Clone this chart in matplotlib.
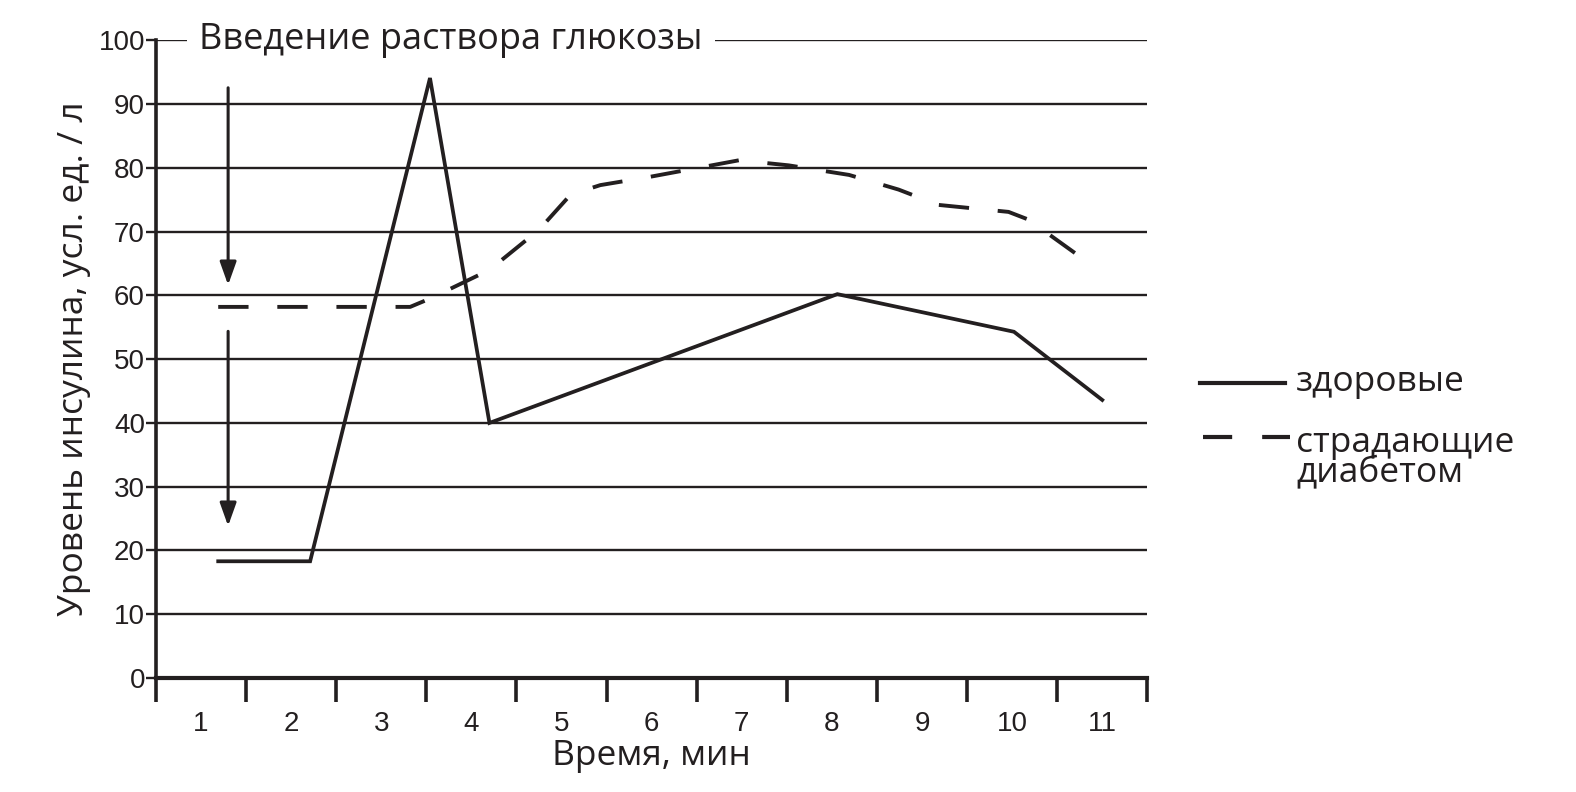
import matplotlib.pyplot as plt
from matplotlib.lines import Line2D

# data
minutes = list(range(1, 12))
y_ticks = list(range(0, 101, 10))

healthy_x = [1.19, 2.21, 3.54, 4.20, 8.06, 10.02, 11.0]
healthy_y = [18.3, 18.3, 94.1, 40.0, 60.2, 54.3, 43.6]

diabetic_x = [1.19, 3.32, 3.54, 4.20, 4.75, 5.10, 5.43, 5.98, 6.97,
              7.52, 8.19, 8.74, 9.18, 9.96, 10.18, 10.79]
diabetic_y = [58.2, 58.2, 59.5, 64.0, 70.3, 75.8, 77.3, 78.6, 81.2,
              80.4, 78.9, 76.6, 74.2, 73.1, 71.9, 65.7]

title = "Введение раствора глюкозы"
ylabel = "Уровень инсулина, усл. ед. / л"
xlabel = "Время, мин"
legend_labels = ["здоровые", "страдающие\nдиабетом"]

ink = "#231f20"
text_font = ["Open Sans", "DejaVu Sans"]
num_font = ["Liberation Sans Narrow", "Liberation Sans", "DejaVu Sans"]

fig = plt.figure(figsize=(15.76, 7.92), dpi=100)
ax = fig.add_axes([0.099, 0.144, 0.629, 0.805])

ax.set_xlim(0.5, 11.5)
ax.set_ylim(0, 100)

# horizontal grid lines
for v in y_ticks[1:]:
    ax.axhline(v, color=ink, lw=1.7, zorder=1)

ax.plot(healthy_x, healthy_y, color=ink, lw=2.7, solid_joinstyle="miter", zorder=3)
ax.plot(diabetic_x, diabetic_y, color=ink, lw=2.8, dashes=(7.8, 7.4), zorder=3)

# arrows
arrow_kw = dict(arrowstyle="-|>,head_length=1.4,head_width=0.5", color=ink, lw=2.2)
ax.annotate("", xy=(1.3, 61.2), xytext=(1.3, 93.0), arrowprops=arrow_kw, zorder=4)
ax.annotate("", xy=(1.3, 23.4), xytext=(1.3, 54.8), arrowprops=arrow_kw, zorder=4)

# title on the 100 line
ax.text(0.98, 100, title, family=text_font, fontsize=26, color=ink,
        ha="left", va="center", zorder=5,
        bbox=dict(facecolor="white", edgecolor="none", pad=9))

# spines
for s in ["top", "right"]:
    ax.spines[s].set_visible(False)
ax.spines["left"].set_linewidth(2.6)
ax.spines["bottom"].set_linewidth(3.0)
ax.spines["left"].set_color(ink)
ax.spines["bottom"].set_color(ink)

ax.set_yticks(y_ticks)
ax.set_yticklabels([str(v) for v in y_ticks], family=num_font, fontsize=20, color=ink)
ax.tick_params(axis="y", length=7, width=1.7, color=ink, pad=1)

bounds = [m - 0.5 for m in minutes] + [minutes[-1] + 0.5]
ax.set_xticks(bounds)
ax.set_xticklabels([])
ax.tick_params(axis="x", which="major", length=17, width=2.6, color=ink)
ax.set_xticks(minutes, minor=True)
ax.set_xticklabels([str(m) for m in minutes], minor=True, family=num_font,
                   fontsize=20, color=ink)
ax.tick_params(axis="x", which="minor", length=0, pad=24)

ax.set_xlabel(xlabel, family=text_font, fontsize=25.5, color=ink, labelpad=1)
ax.set_ylabel(ylabel, family=text_font, fontsize=25.5, color=ink, labelpad=5)

# legend drawn by hand at the right
fig.add_artist(Line2D([1200 / 1576, 1285 / 1576], [1 - 383 / 792] * 2,
                      color=ink, lw=3.0))
fig.add_artist(Line2D([1203 / 1576, 1290 / 1576], [1 - 437 / 792] * 2,
                      color=ink, lw=3.0, dashes=(7, 7.2)))
fig.text(1296 / 1576, 1 - 382 / 792, legend_labels[0], family=text_font,
         fontsize=25.5, color=ink, ha="left", va="center")
fig.text(1296 / 1576, 1 - 426 / 792, legend_labels[1], family=text_font,
         fontsize=25.5, color=ink, ha="left", va="top", linespacing=0.82)

fig.savefig("out.png", dpi=100)
